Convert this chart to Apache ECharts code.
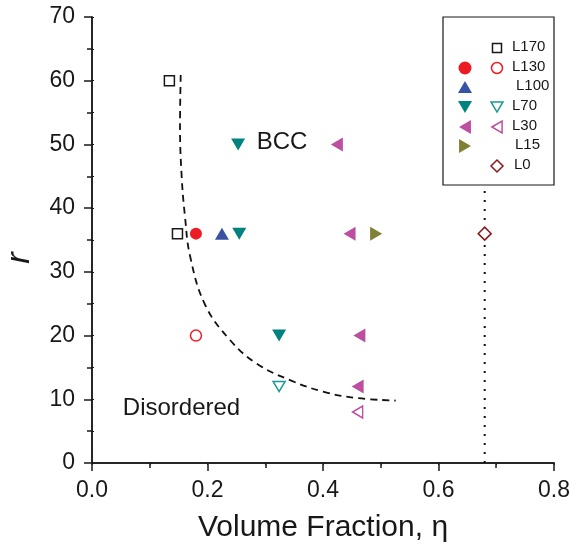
<!DOCTYPE html>
<html>
<head>
<meta charset="utf-8">
<script src="https://cdn.jsdelivr.net/npm/echarts@6/dist/echarts.min.js"></script>
<style>
  html, body { margin: 0; padding: 0; background: #fff; }
  #main { width: 576px; height: 546px; }
</style>
</head>
<body>
<div id="main"></div>
<script>
// points: [volume fraction, r]
const L170_open   = [[0.134, 60], [0.148, 36]];
const L130_filled = [[0.180, 36]];
const L130_open   = [[0.180, 20]];
const L100_filled = [[0.225, 36]];
const L70_filled  = [[0.253, 50], [0.255, 36], [0.324, 20]];
const L70_open    = [[0.324, 12]];
const L30_filled  = [[0.424, 50], [0.446, 36], [0.463, 20], [0.460, 12]];
const L30_open    = [[0.460, 8]];
const L15_filled  = [[0.492, 36]];
const L0_open     = [[0.68, 36]];

// dashed phase boundary
const boundary = [[0.1536, 60.9], [0.1524, 52.8], [0.1553, 44.9], [0.161, 38.7], [0.170, 32.4],
                  [0.196, 24.8], [0.239, 19.3], [0.285, 15.6], [0.343, 13.0], [0.400, 11.2],
                  [0.458, 10.2], [0.526, 9.8]];
// dotted line at eta = 0.68
const L0_line = [[0.68, 0], [0.68, 70]];

const regionNames = ['BCC', 'Disordered'];
const regionPos = [[0.329, 50.4], [0.155, 8.5]];

const legendLabels = ['L170', 'L130', 'L100', 'L70', 'L30', 'L15', 'L0'];

const xTicks = [0, 0.8, 0.2];
const yTicks = [0, 70, 10];

var TXT = '#1a1718';
var RED = '#ed1c24', BLUE = '#3953a4', TEAL = '#00827e', TEAL_O = '#1a9b97',
    MAG = '#bd4fa0', OLIVE = '#808035', DRED = '#8b1a1a';

function pts(name, data, symbol, size, rotate, color, open)
{
    return {
        name: name,
        type: 'scatter',
        data: data,
        symbol: symbol,
        symbolSize: size,
        symbolRotate: rotate,
        z: 5,
        itemStyle: open
            ? { color: '#fff', borderColor: color, borderWidth: 1.5, opacity: 1 }
            : { color: color, opacity: 1 }
    };
}

// legend symbol drawn with graphic shapes
function mark(kind, cx, cy, s, color, open)
{
    var style = open ? { fill: '#fff', stroke: color, lineWidth: 1.5 } : { fill: color };
    var h = s / 2;
    if (kind == 'square')
        return { type: 'rect', z: 101, shape: { x: cx - h, y: cy - h, width: s, height: s }, style: style };
    if (kind == 'circle')
        return { type: 'circle', z: 101, shape: { cx: cx, cy: cy, r: h }, style: style };
    var p;
    if (kind == 'up') p = [[cx, cy - h * 0.85], [cx + h, cy + h * 0.85], [cx - h, cy + h * 0.85]];
    if (kind == 'down') p = [[cx, cy + h * 0.85], [cx + h, cy - h * 0.85], [cx - h, cy - h * 0.85]];
    if (kind == 'left') p = [[cx - h * 0.85, cy], [cx + h * 0.85, cy - h], [cx + h * 0.85, cy + h]];
    if (kind == 'right') p = [[cx + h * 0.85, cy], [cx - h * 0.85, cy - h], [cx - h * 0.85, cy + h]];
    if (kind == 'diamond') p = [[cx, cy - h], [cx + h, cy], [cx, cy + h], [cx - h, cy]];
    return { type: 'polygon', z: 101, shape: { points: p }, style: style };
}

var rowY = [48, 68, 87, 107, 127, 146, 166];
var labelX = [512, 512, 516, 512, 512, 515, 514];
var col1 = [null, ['circle', RED], ['up', BLUE], ['down', TEAL], ['left', MAG], ['right', OLIVE], null];
var col2 = [['square', TXT], ['circle', RED], null, ['down', TEAL_O], ['left', MAG], null, ['diamond', DRED]];
var col2Size = [9, 11, 0, 12, 12, 0, 12];

var legendGraphics = [{
    type: 'rect', z: 100,
    shape: { x: 443, y: 17, width: 111, height: 168 },
    style: { fill: '#fff', stroke: TXT, lineWidth: 1.2 }
}];
for (let i = 0; i < legendLabels.length; i++)
{
    if (col1[i]) legendGraphics.push(mark(col1[i][0], 465, rowY[i], i == 1 ? 13 : 14, col1[i][1], false));
    if (col2[i]) legendGraphics.push(mark(col2[i][0], 497, rowY[i], col2Size[i], col2[i][1], true));
    legendGraphics.push({
        type: 'text', z: 101, left: labelX[i], top: rowY[i] - 9,
        style: { text: legendLabels[i], fill: TXT, font: '15px "Liberation Sans", Arial, sans-serif' }
    });
}

var axisFont = '"Liberation Sans", Arial, sans-serif';

var chart = echarts.init(document.getElementById('main'));
var option = {
    animation: false,
    backgroundColor: '#fff',
    grid: { left: 92, right: 22, top: 17, bottom: 83, containLabel: false, outerBoundsMode: 'none' },
    xAxis: [{
        type: 'value', position: 'bottom',
        min: xTicks[0], max: xTicks[1], interval: xTicks[2],
        name: 'Volume Fraction, η', nameLocation: 'middle', nameGap: 50,
        nameTextStyle: { fontSize: 30, color: TXT, fontFamily: axisFont },
        axisLine: { lineStyle: { color: TXT, width: 1.5 } },
        axisTick: { inside: false, length: 8, lineStyle: { color: TXT, width: 1.5 } },
        minorTick: { show: true, splitNumber: 2, length: 5, lineStyle: { color: TXT, width: 1.5 } },
        axisLabel: { fontSize: 23, color: TXT, margin: 16, fontFamily: axisFont,
                     formatter: function (v) { return v.toFixed(1); } },
        splitLine: { show: false }
    }, {
        type: 'value', position: 'top',
        min: xTicks[0], max: xTicks[1], interval: xTicks[2],
        axisLine: { lineStyle: { color: TXT, width: 1.5 } },
        axisTick: { inside: true, length: 2, lineStyle: { color: TXT, width: 1 } },
        minorTick: { show: true, splitNumber: 2, length: 2, lineStyle: { color: TXT, width: 1 } },
        axisLabel: { show: false },
        splitLine: { show: false }
    }],
    yAxis: [{
        type: 'value', position: 'left',
        min: yTicks[0], max: yTicks[1], interval: yTicks[2],
        name: 'r', nameLocation: 'middle', nameGap: 55, nameRotate: 90,
        nameTextStyle: { fontSize: 34, fontStyle: 'italic', color: TXT, fontFamily: axisFont,
                         padding: [0, 36, 0, 0] },
        axisLine: { lineStyle: { color: TXT, width: 1.5 } },
        axisTick: { inside: false, length: 8, lineStyle: { color: TXT, width: 1.5 } },
        minorTick: { show: true, splitNumber: 2, length: 5, lineStyle: { color: TXT, width: 1.5 } },
        axisLabel: { fontSize: 23, color: TXT, margin: 17, fontFamily: axisFont },
        splitLine: { show: false }
    }, {
        type: 'value', position: 'right',
        min: yTicks[0], max: yTicks[1], interval: yTicks[2],
        axisLine: { lineStyle: { color: TXT, width: 1.5 } },
        axisTick: { inside: false, length: 2, lineStyle: { color: TXT, width: 1 } },
        minorTick: { show: true, splitNumber: 2, length: 2, lineStyle: { color: TXT, width: 1 } },
        axisLabel: { show: false },
        splitLine: { show: false }
    }],
    graphic: { elements: legendGraphics },
    series: [
        {
            type: 'line', data: boundary, smooth: 0.4, showSymbol: false, z: 2,
            lineStyle: { color: '#111', width: 1.8, type: [7, 5] }
        },
        {
            type: 'line', data: L0_line, showSymbol: false, z: 2,
            lineStyle: { color: '#111', width: 2, type: [2, 7] }
        },
        pts('L170', L170_open, 'rect', 10, 0, TXT, true),
        pts('L130', L130_filled, 'circle', 12, 0, RED, false),
        pts('L130 open', L130_open, 'circle', 11, 0, RED, true),
        pts('L100', L100_filled, 'triangle', [14, 12], 0, BLUE, false),
        pts('L70', L70_filled, 'triangle', [14, 12], 180, TEAL, false),
        pts('L70 open', L70_open, 'triangle', [12, 10], 180, TEAL_O, true),
        pts('L30', L30_filled, 'triangle', [14, 12], 90, MAG, false),
        pts('L30 open', L30_open, 'triangle', [12, 10], 90, MAG, true),
        pts('L15', L15_filled, 'triangle', [14, 12], -90, OLIVE, false),
        pts('L0', L0_open, 'diamond', 13, 0, DRED, true),
        {
            type: 'scatter', symbolSize: 0, z: 6,
            itemStyle: { opacity: 1 },
            data: regionNames.map(function (n, i) { return { name: n, value: regionPos[i] }; }),
            label: { show: true, position: 'inside', formatter: '{b}', fontSize: 24,
                     color: TXT, fontFamily: axisFont }
        }
    ]
};
chart.setOption(option);
</script>
</body>
</html>
